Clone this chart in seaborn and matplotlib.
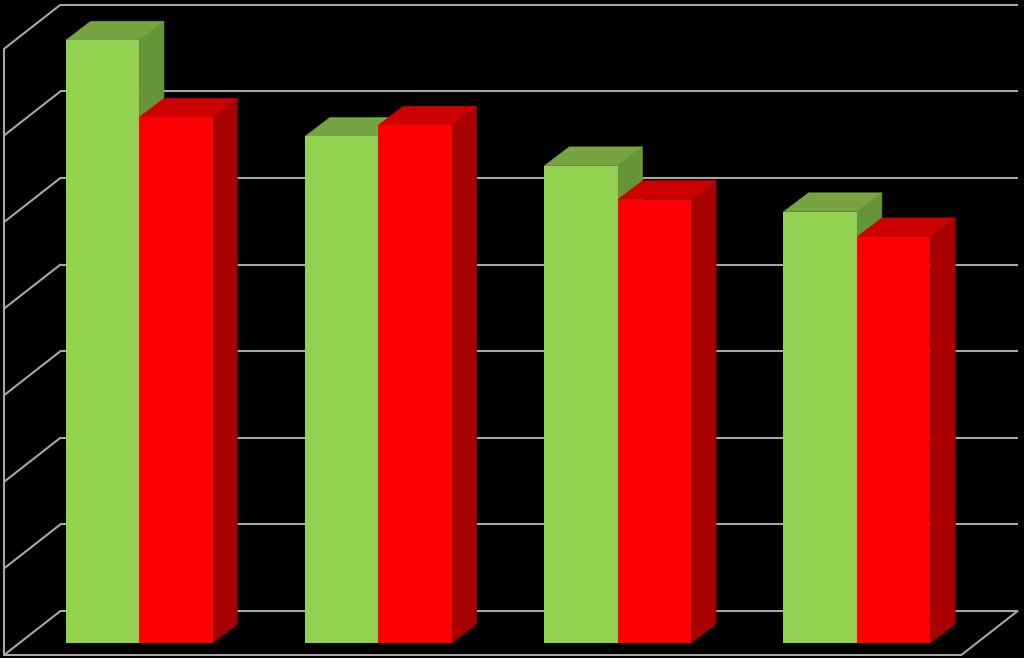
import numpy as np
import pandas as pd
import matplotlib
matplotlib.use("Agg")
import matplotlib.pyplot as plt
from matplotlib.patches import Polygon
import seaborn as sns

# ---- data ----
categories = ["A", "B", "C", "D"]
series_names = ["Series 1", "Series 2"]
series1 = [69.6, 58.5, 55.1, 49.8]
series2 = [60.7, 59.8, 51.2, 46.9]
grid_values = [0, 10, 20, 30, 40, 50, 60, 70]

front_colors = {"Series 1": "#92D050", "Series 2": "#FF0000"}
top_colors = {"Series 1": "#76A441", "Series 2": "#CC0000"}
side_colors = {"Series 1": "#669538", "Series 2": "#A80000"}

df = pd.DataFrame({
    "category": categories * 2,
    "series": [series_names[0]] * 4 + [series_names[1]] * 4,
    "value": series1 + series2,
})

sns.set_theme(style="white")
fig = plt.figure(figsize=(10.24, 6.58), dpi=100, facecolor="black")
ax = fig.add_axes([0, 0, 1, 1])
ax.set_facecolor("black")

sns.barplot(data=df, x="category", y="value", hue="series", order=categories,
            hue_order=series_names, palette=front_colors, width=0.614,
            errorbar=None, legend=False, ax=ax, linewidth=0, saturation=1)

ax.set_xlim(-0.581, 3.698)
ax.set_ylim(-1.732, 74.25)
ax.axis("off")
fig.canvas.draw()

# pixel -> data conversion for depth offsets
inv = ax.transData.inverted()
def px_offset(dx, dy):
    p0 = ax.transData.transform((0, 0))
    p1 = inv.transform(p0 + np.array([dx, dy]))
    return p1[0], p1[1]

bx, by = px_offset(41, 32)      # back wall from bar front plane
fx, fy = px_offset(-15.3, -12)  # floor front from bar front plane
dbx, dby = px_offset(25, 19)    # bar depth

gc = "#A6A6A6"
lw = 1.5
x0, x1 = -0.5, 3.5
for v in grid_values:
    ax.plot([x0 + bx, x1 + bx], [v + by, v + by], color=gc, lw=lw, zorder=1,
            solid_capstyle="butt")
    ax.plot([x0 + fx, x0 + bx], [v + fy, v + by], color=gc, lw=lw, zorder=1)
ax.plot([x0 + fx, x0 + fx], [grid_values[0] + fy, grid_values[-1] + fy],
        color=gc, lw=lw, zorder=1)
ax.plot([x0 + fx, x1 + fx], [fy, fy], color=gc, lw=lw, zorder=1)
ax.plot([x1 + fx, x1 + bx], [fy, by], color=gc, lw=lw, zorder=1)

# 3D faces derived from seaborn's bars
bars = sorted([p for p in ax.patches if p.get_height() > 0], key=lambda p: p.get_x())
for i, p in enumerate(bars):
    x, w, h = p.get_x(), p.get_width(), p.get_height()
    cidx = int(round(x + w / 2))
    s = series_names[0] if (x + w / 2) < cidx else series_names[1]
    z = 10 + i
    top = Polygon([(x, h), (x + w, h), (x + w + dbx, h + dby), (x + dbx, h + dby)],
                  closed=True, facecolor=top_colors[s], edgecolor=top_colors[s],
                  lw=0.3, zorder=z)
    side = Polygon([(x + w, 0), (x + w + dbx, dby), (x + w + dbx, h + dby), (x + w, h)],
                   closed=True, facecolor=side_colors[s], edgecolor=side_colors[s],
                   lw=0.3, zorder=z)
    ax.add_patch(side)
    ax.add_patch(top)
    p.set_zorder(z + 0.5)

fig.savefig("out.png", dpi=100, facecolor="black")
